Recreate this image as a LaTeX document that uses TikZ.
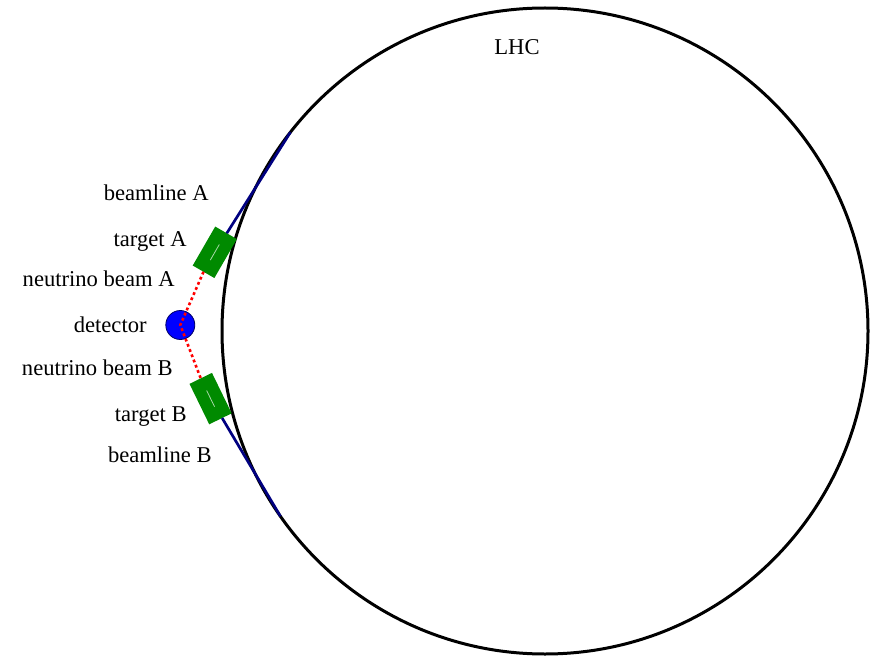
\documentclass[tikz,border=0pt]{standalone}
\usepackage{fontspec}
\setmainfont{Liberation Serif}
\usepackage{tikz}
\usetikzlibrary{calc}
\definecolor{navy}{HTML}{000080}
\definecolor{tgtgreen}{HTML}{008A00}
\definecolor{paleline}{HTML}{A8D8A8}
\tikzset{
  ring/.style={circle,draw=black,line width=1.5pt,inner sep=0pt,outer sep=0pt},
  beamline/.style={draw=navy,line width=1.35pt},
  target/.style={rectangle,fill=tgtgreen,minimum width=22.5pt,minimum height=12.5pt,inner sep=0pt,outer sep=0pt},
  detector/.style={circle,fill=blue,draw=blue!40!black,line width=.4pt,minimum size=14.5pt,inner sep=0pt},
  nubeam/.style={draw=red,line width=1.3pt,dash pattern=on 1.4pt off 1.4pt},
  tag/.style={font=\fontsize{11.3}{13}\selectfont,inner sep=0pt,anchor=base east},
}

\begin{document}
\begin{tikzpicture}[x=0.5pt,y=-0.5pt]
  \useasboundingbox (0,0) rectangle (873,658);
  % the ring
  \node[ring,minimum size=323pt] (lhc) at (545,331) {};
  \node[tag,anchor=base] (lhctag) at (517,55) {LHC};

  % extraction lines and targets
  \node[target,rotate=60] (tgtA) at (214.8,252.3) {};
  \node[target,rotate=-64] (tgtB) at (210.6,398.6) {};
  \draw[beamline] (tgtA) -- (lhc.142.2);
  \draw[beamline] (tgtB) -- (lhc.215.8);
  \foreach \t in {tgtA,tgtB}
    \draw[paleline,line width=.4pt] ($(\t.west)!.3!(\t.east)$) -- ($(\t.west)!.7!(\t.east)$);

  % detector and neutrino beams
  \node[detector] (det) at (180.3,325) {};
  \draw[nubeam] (tgtA.west) -- (det.center) -- (tgtB.west);

  % labels
  \node[tag] (beamA) at (209,200) {beamline A};
  \node[tag] (targA) at (187,246) {target A};
  \node[tag] (nuA) at (175,286) {neutrino beam A};
  \node[tag] (dettag) at (147,332) {detector};
  \node[tag] (nuB) at (173,375) {neutrino beam B};
  \node[tag] (targB) at (187,421) {target B};
  \node[tag] (beamB) at (212,462) {beamline B};
\end{tikzpicture}
\end{document}
